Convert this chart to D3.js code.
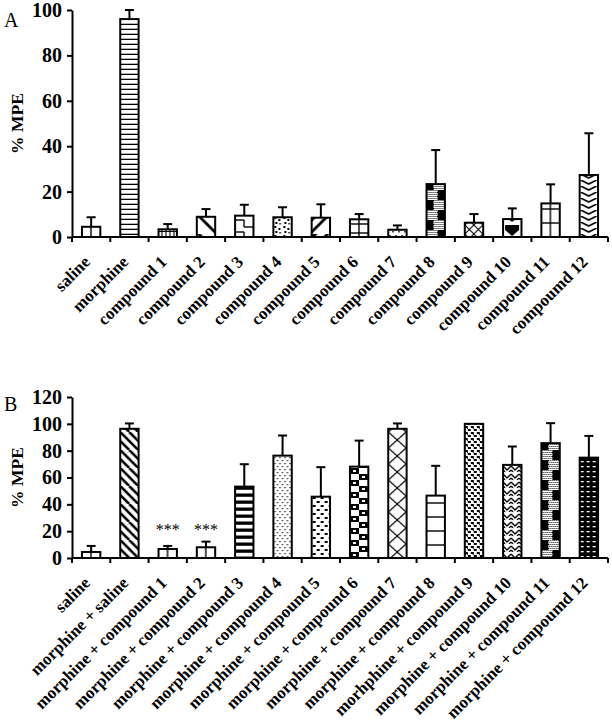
<!DOCTYPE html>
<html><head><meta charset="utf-8">
<script src="https://cdn.jsdelivr.net/npm/d3@7"></script>
<style>body{margin:0;background:#fff}svg{display:block}</style>
</head><body><svg id="c" width="612" height="727"></svg>
<script>
const catsA = ['saline','morphine','compound 1','compound 2','compound 3','compound 4','compound 5','compound 6','compound 7','compound 8','compound 9','compound 10','compound 11','compoumd 12'];
const meanA = [4.5, 96, 3.4, 8.9, 9.4, 8.7, 8.5, 7.8, 3.2, 23.3, 6.3, 7.9, 14.8, 27.3];
const semA  = [4.2, 4, 2.3, 3.4, 4.8, 4.4, 5.9, 2.3, 1.9, 15, 3.8, 4.7, 8.4, 18.4];
const catsB = ['saline','morphine + saline','morphine + compound 1','morphine + compound 2','morphine + compound 3','morphine + compound 4','morphine + compound 5','morphine + compound 6','morphine + compound 7','morphine + compound 8','morhphine + compound 9','morphine + compound 10','morphine + compound 11','morphine + compoumd 12'];
const meanB = [4.5, 96.3, 6.7, 8, 53.2, 76.3, 45.7, 68.1, 96.3, 46.5, 100, 69.4, 85.6, 74.8];
const semB  = [4.5, 4, 2.3, 4.2, 16.7, 15, 22, 19.4, 4, 22.2, 0, 13.7, 14.9, 16.2];
const starsB = ['','','***','***','','','','','','','','','',''];
const ticksA = [0,20,40,60,80,100];
const ticksB = [0,20,40,60,80,100,120];
const patsA = ['gridL','hlines','smallgrid','bdiagWide','dashH','confettiL','fdiagWide','gridM','confettiS','checkL','diagX','darkBlob','gridL','chevron'];
const patsB = ['gridL','bdiag','gridL','gridL','hthick','dots','brick','checkBW','lattice','hsparse','checkSmall','weave','checkL','darkDash'];

const svg = d3.select('#c');
const defs = svg.append('defs');
const FONT = '"Liberation Serif", "Times New Roman", serif';

function makePattern(id, type, px) {
  let w = 8, h = 8;
  const p = defs.append('pattern').attr('id', id).attr('patternUnits','userSpaceOnUse').attr('x', px).attr('y', 0);
  const bg = (c) => p.append('rect').attr('width', 100).attr('height', 100).attr('fill', c);
  const ln = (x1,y1,x2,y2,sw,c) => p.append('line').attr('x1',x1).attr('y1',y1).attr('x2',x2).attr('y2',y2).attr('stroke',c||'#000').attr('stroke-width',sw||1.2);
  const rc = (x,y,ww,hh,c) => p.append('rect').attr('x',x).attr('y',y).attr('width',ww).attr('height',hh).attr('fill',c||'#000');
  switch(type) {
    case 'hlines': w=18; h=5; bg('#fff'); ln(0,4.5,18,4.5,1.6); break;
    case 'smallgrid': w=4; h=8; bg('#fff'); ln(3.5,0,3.5,8,1.3); ln(0,7.5,4,7.5,1.3); break;
    case 'gridL': w=18; h=14; bg('#fff'); ln(9,0,9,14,1.4); ln(0,13,18,13,1.4); break;
    case 'gridM': w=18; h=9; bg('#fff'); ln(9,0,9,9,1.4); ln(0,8,18,8,1.4); break;
    case 'bdiagWide': w=18; h=18; bg('#fff');
      p.append('path').attr('d','M0,0 L4,0 L18,14 L18,18 Z').attr('fill','#000'); break;
    case 'fdiagWide': w=18; h=18; bg('#fff');
      p.append('path').attr('d','M0,18 L0,14 L14,0 L18,0 Z M0,0 L6,0 L0,6 Z').attr('fill','#000'); break;
    case 'dashH': w=18; h=12; bg('#fff'); ln(0,4,9,4,1.4); ln(9,4,9,11,1.4); ln(9,11,18,11,1.4); break;
    case 'confettiL': w=9; h=9; bg('#fff'); rc(1,1,2,2); rc(5,3,2,2); rc(2,6,2,2); rc(6,7,1.5,1.5); break;
    case 'confettiS': w=6; h=6; bg('#fff'); rc(1,1,1.5,1.5); rc(4,3,1.5,1.5); break;
    case 'checkL': w=18; h=20; bg('#fff');
      rc(0,0,7,10,'#000');
      for (let yy=0; yy<10; yy+=2) for (let xx=7; xx<18; xx+=2) rc(xx+((yy/2)%2),yy,1,1,'#000');
      rc(11,10,7,10,'#000');
      for (let yy=10; yy<20; yy+=2) for (let xx=0; xx<11; xx+=2) rc(xx+((yy/2)%2),yy,1,1,'#000');
      break;
    case 'diagX': w=9; h=9; bg('#fff'); ln(0,0,9,9,1.1); ln(9,0,0,9,1.1); break;
    case 'darkBlob': w=18; h=14; bg('#fff');
      p.append('path').attr('d','M2,1 L16,1 L16,6 L9,12 L2,6 Z').attr('fill','#000'); break;
    case 'chevron': w=18; h=6; bg('#fff');
      p.append('path').attr('d','M1,0 L9,4 L17,0').attr('fill','none').attr('stroke','#000').attr('stroke-width',1.6); break;
    case 'bdiag': w=18; h=18; bg('#fff');
      [-18,-9,0,9,18].forEach(o => ln(o,0,o+18,18,2.6)); break;
    case 'hthick': w=18; h=7; bg('#fff'); rc(0,3.5,18,3.3,'#000'); break;
    case 'dots': w=5; h=6; bg('#fff'); rc(1,1,1.2,1.2); rc(3.5,4,1.2,1.2); break;
    case 'brick': w=8; h=8; bg('#fff'); rc(1,1,3,2); rc(5,5,3,2); break;
    case 'checkBW': w=18; h=12; bg('#fff'); rc(0,0,9,6); rc(9,6,9,6); rc(3,2,3,2,'#fff'); rc(12,8,3,2,'#fff'); break;
    case 'lattice': w=18; h=16; bg('#fff'); ln(0,0,18,16,1.3); ln(18,0,0,16,1.3); break;
    case 'hsparse': w=18; h=14; bg('#fff'); ln(0,13,18,13,1.4); break;
    case 'checkSmall': w=6; h=6; bg('#fff'); rc(0,0,3,2); rc(3,3,3,2); rc(2,2,1,1); break;
    case 'weave': w=8; h=8; bg('#fff');
      p.append('path').attr('d','M0,2 L4,6 L8,2 M0,6 L2,8 M6,8 L8,6').attr('fill','none').attr('stroke','#000').attr('stroke-width',1.3); break;
    case 'darkDash': w=6; h=5; bg('#000'); rc(1,1,3,1.3,'#fff'); break;
    default: bg('#fff');
  }
  p.attr('width', w).attr('height', h);
}

function panel(cats, means, sems, pats, stars, ticks, yTop, yBot, ymax, prefix, letter, letterY) {
  const x = d3.scaleBand().domain(cats).range([72, 608]).paddingInner(0.52).paddingOuter(0.26);
  const y = d3.scaleLinear().domain([0, ymax]).range([yBot, yTop]);
  const step = x.step();
  const off = (step - x.bandwidth())/2;
  const g = svg.append('g');

  cats.forEach((c,i) => makePattern(prefix+i, pats[i], x(c)));

  g.selectAll('.err').data(cats).join('g').each(function(c,i){
    if (sems[i] <= 0) return;
    const cx = x(c) + x.bandwidth()/2;
    const s = d3.select(this);
    s.append('line').attr('x1',cx).attr('x2',cx).attr('y1',y(means[i])).attr('y2',y(means[i]+sems[i])).attr('stroke','#000').attr('stroke-width',2);
    s.append('line').attr('x1',cx-4.5).attr('x2',cx+4.5).attr('y1',y(means[i]+sems[i])).attr('y2',y(means[i]+sems[i])).attr('stroke','#000').attr('stroke-width',2);
  });
  g.selectAll('.bar').data(cats).join('rect')
    .attr('x', c => x(c)).attr('width', x.bandwidth())
    .attr('y', (c,i) => y(means[i])).attr('height', (c,i) => y(0)-y(means[i]))
    .attr('fill', (c,i) => `url(#${prefix+i})`).attr('stroke','#000').attr('stroke-width',2);

  g.selectAll('.star').data(cats).join('text')
    .attr('x', c => x(c)+x.bandwidth()/2).attr('y', y(ymax*0.141))
    .attr('text-anchor','middle').attr('font-family',FONT).attr('font-size',16).attr('fill','#000')
    .text((c,i) => stars ? stars[i] : '');

  const ya = g.append('g').attr('transform','translate(72,0)')
    .call(d3.axisLeft(y).tickValues(ticks).tickSize(5).tickSizeOuter(0).tickPadding(5));
  ya.select('.domain').attr('stroke-width',2);
  ya.selectAll('.tick line').attr('stroke-width',2);
  ya.selectAll('.tick text').attr('font-family',FONT).attr('font-size',20).attr('font-weight','bold').attr('fill','#000');

  const bounds = cats.map(c => x(c) - off).concat([x(cats[cats.length-1]) + x.bandwidth() + off]);
  g.append('line').attr('x1',72).attr('x2',bounds[bounds.length-1]).attr('y1',y(0)).attr('y2',y(0)).attr('stroke','#000').attr('stroke-width',2);
  g.selectAll('.xt').data(bounds).join('line')
    .attr('x1',d=>d).attr('x2',d=>d).attr('y1',y(0)).attr('y2',y(0)+5).attr('stroke','#000').attr('stroke-width',2);
  g.selectAll('.xl').data(cats).join('text')
    .attr('transform', c => `translate(${x(c)+x.bandwidth()/2},${y(0)+26}) rotate(-45)`)
    .attr('text-anchor','end').attr('font-family',FONT).attr('font-size',17).attr('font-weight','bold').attr('fill','#000')
    .text(c => c);

  g.append('text').attr('transform', `translate(23,${(yTop+yBot)/2}) rotate(-90)`)
    .attr('text-anchor','middle').attr('font-family',FONT).attr('font-size',17.5).attr('font-weight','bold').attr('fill','#000').text('% MPE');
  g.append('text').attr('x',4).attr('y',letterY).attr('font-family',FONT).attr('font-size',20).attr('fill','#000').text(letter);
}

panel(catsA, meanA, semA, patsA, null, ticksA, 10, 237, 100, 'pa', 'A', 27);
panel(catsB, meanB, semB, patsB, starsB, ticksB, 397, 558, 120, 'pb', 'B', 411);
</script></body></html>
